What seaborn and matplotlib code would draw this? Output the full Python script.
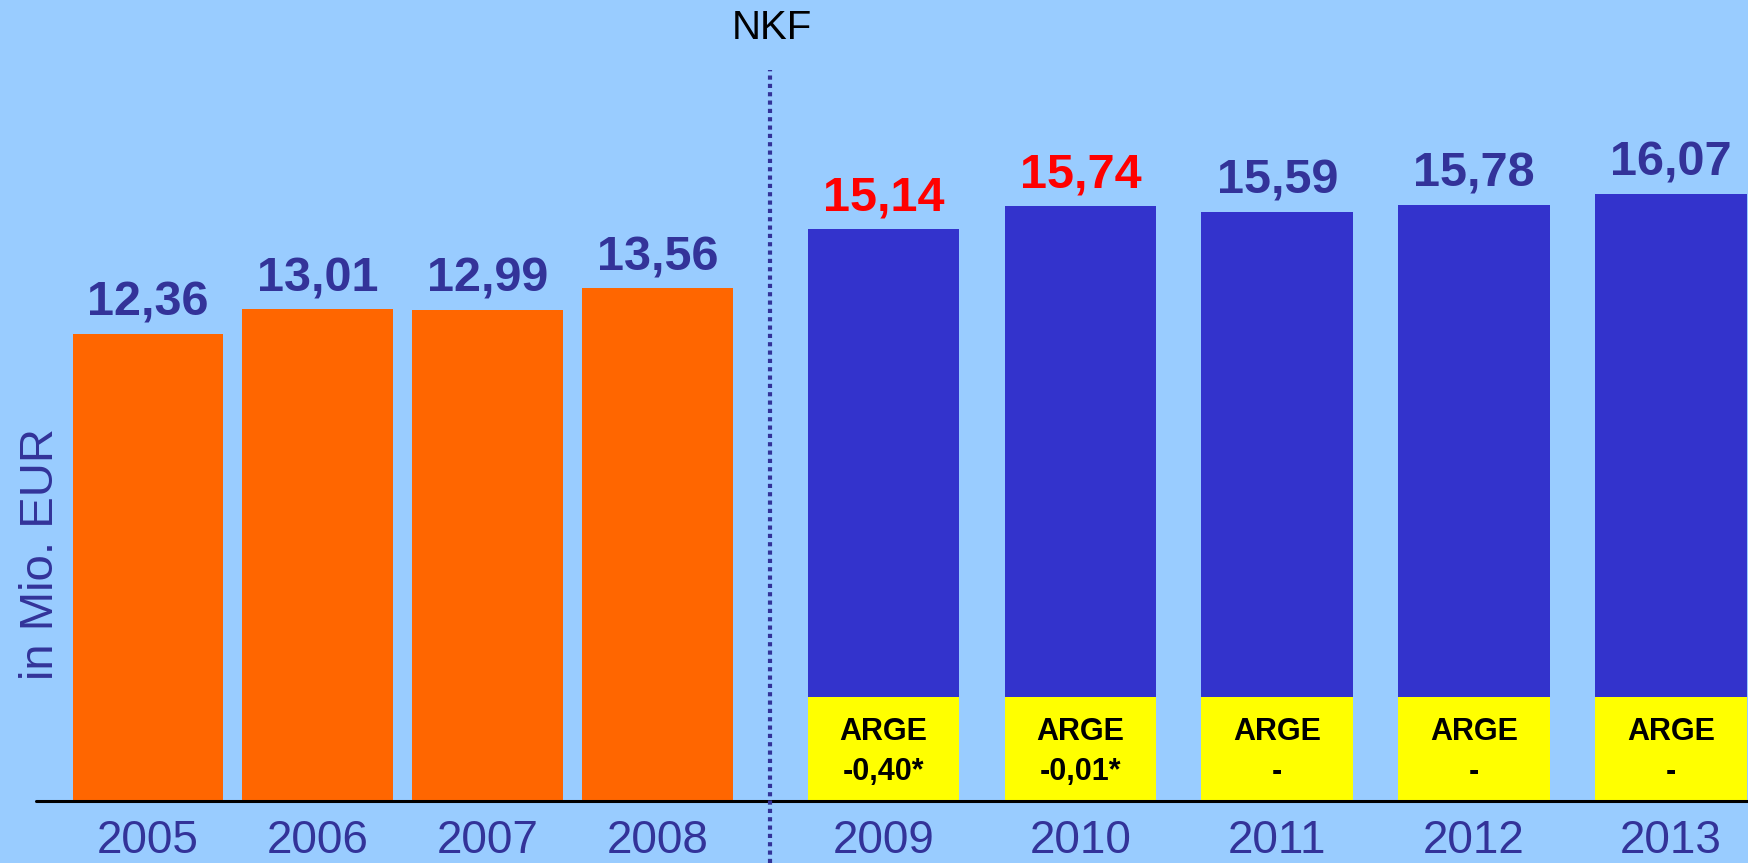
import numpy as np
import pandas as pd
import seaborn as sns
import matplotlib.pyplot as plt
from matplotlib.lines import Line2D

# data
years_old = ["2005", "2006", "2007", "2008"]
values_old = [12.36, 13.01, 12.99, 13.56]
years_nkf = ["2009", "2010", "2011", "2012", "2013"]
values_nkf = [15.14, 15.74, 15.59, 15.78, 16.07]
arge_labels = ["-0,40*", "-0,01*", "-", "-", "-"]
highlight_years = ["2009", "2010"]

BG = "#99CCFF"
ORANGE = "#FF6600"
BLUE = "#3333CC"
TEXT_BLUE = "#333399"
ARGE_H = 2.76  # height of yellow ARGE box, in data units

sns.set_theme(style="white")
plt.rcParams["font.family"] = ["Liberation Sans", "DejaVu Sans"]

W, H = 1749, 863
fig = plt.figure(figsize=(W / 100, H / 100), dpi=100, facecolor=BG)

base_y = (H - 801) / H
x_left = 35.7 / W
x_split = 770 / W
ymax = 801 / 37.8

ax1 = fig.add_axes([x_left, base_y, x_split - x_left, 1 - base_y])
ax2 = fig.add_axes([x_split, base_y, 1 - x_split, 1 - base_y])

old_df = pd.DataFrame({"Jahr": years_old, "Wert": values_old})
nkf_df = pd.DataFrame({"Jahr": years_nkf, "Wert": values_nkf})
nkf_df["ARGE"] = ARGE_H

bar_kw = dict(saturation=1, linewidth=0, edgecolor="none")
sns.barplot(data=old_df, x="Jahr", y="Wert", order=years_old, color=ORANGE,
            width=0.886, ax=ax1, **bar_kw)
sns.barplot(data=nkf_df, x="Jahr", y="Wert", order=years_nkf, color=BLUE,
            width=0.77, ax=ax2, **bar_kw)
sns.barplot(data=nkf_df, x="Jahr", y="ARGE", order=years_nkf, color="#FFFF00",
            width=0.77, ax=ax2, **bar_kw)

ax1.set_xlim(-0.660, 3.662)
ax2.set_xlim(-0.576, 4.396)

for ax, years, vals in [(ax1, years_old, values_old), (ax2, years_nkf, values_nkf)]:
    ax.set_facecolor(BG)
    ax.set_ylim(0, ymax)
    ax.set_yticks([])
    ax.set_xlabel("")
    ax.set_ylabel("")
    for s in ax.spines.values():
        s.set_visible(False)
    ax.tick_params(axis="x", length=0, pad=13, labelsize=33, labelcolor=TEXT_BLUE)
    ax.axhline(0, color="black", lw=2.2, clip_on=False, zorder=5)
    for i, (yr, v) in enumerate(zip(years, vals)):
        col = "#FF0000" if yr in highlight_years else TEXT_BLUE
        ax.annotate(f"{v:.2f}".replace(".", ","), (i, v), xytext=(0, 13),
                    textcoords="offset points", ha="center", va="baseline",
                    fontsize=35, fontweight="bold", color=col)

for i, lab in enumerate(arge_labels):
    ax2.text(i, 1.83, "ARGE", ha="center", va="center", fontsize=22,
             fontweight="bold", color="black")
    ax2.text(i, 0.77, lab, ha="center", va="center", fontsize=22,
             fontweight="bold", color="black")

# NKF divider
fig.add_artist(Line2D([x_split, x_split], [0, (H - 70) / H], transform=fig.transFigure,
                      color=TEXT_BLUE, lw=3, linestyle=(0, (1, 1))))
fig.text(772 / W, 1 - 28 / H, "NKF", ha="center", va="center", fontsize=29, color="black")
fig.text(41 / W, 1 - 554 / H, "in Mio. EUR", rotation=90, ha="center", va="center",
         fontsize=34, color=TEXT_BLUE)

fig.savefig("out.png", dpi=100, facecolor=BG)
